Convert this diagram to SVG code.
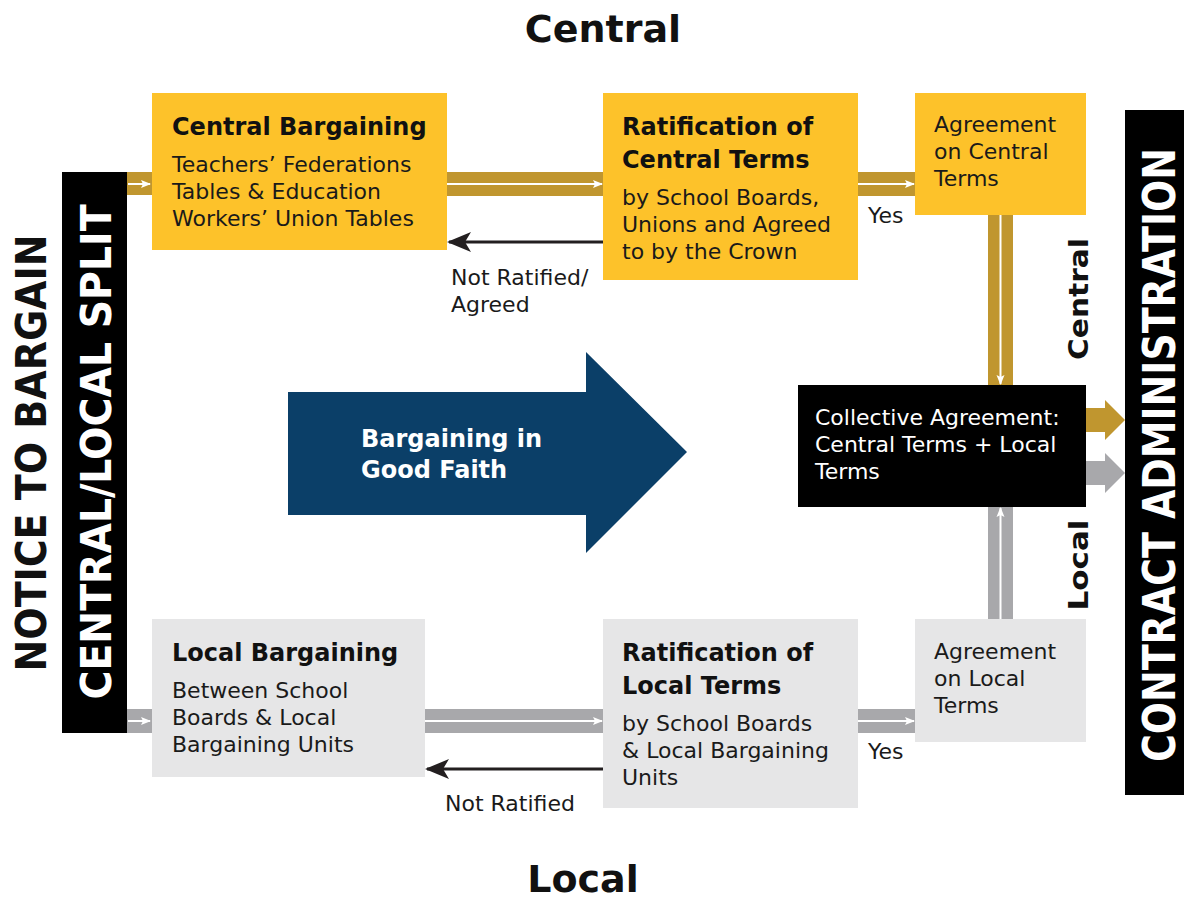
<svg xmlns="http://www.w3.org/2000/svg" width="1184" height="901" viewBox="0 0 1184 901">
<style>
.gbox{fill:#fdc22a}
.lbox{fill:#e6e6e7}
.gband{fill:#c0962f}
.lband{fill:#a8a8ab}
.t{font-family:"DejaVu Sans","Liberation Sans",sans-serif;font-size:22px;fill:#1a1a1a}
.tb{font-family:"DejaVu Sans","Liberation Sans",sans-serif;font-size:24px;font-weight:bold;fill:#111}
.big{font-family:"DejaVu Sans","Liberation Sans",sans-serif;font-weight:bold}
.wl{stroke:#fff;stroke-width:2;fill:none}
.bl{stroke:#231f20;stroke-width:3;fill:none}
</style>
<defs>
<marker id="wh" viewBox="0 0 10 10" refX="9" refY="5" markerWidth="10" markerHeight="10" markerUnits="userSpaceOnUse" orient="auto"><path d="M0,1 L10,5 L0,9 L2,5 Z" fill="#fff"/></marker>
<marker id="bh" viewBox="0 0 24 20" refX="22" refY="10" markerWidth="24" markerHeight="20" markerUnits="userSpaceOnUse" orient="auto"><path d="M0,0 L24,10 L0,20 L6,10 Z" fill="#231f20"/></marker>
</defs>

<!-- titles -->
<text class="big" x="603" y="42" font-size="38" text-anchor="middle" fill="#111">Central</text>
<text class="big" x="583" y="892" font-size="38" text-anchor="middle" fill="#111">Local</text>

<!-- side bars -->
<g id="notice">
<text class="big" transform="translate(46,453) rotate(-90)" font-size="42" text-anchor="middle" fill="#111" textLength="437" lengthAdjust="spacingAndGlyphs">NOTICE TO BARGAIN</text>
</g>
<g id="split">
<rect x="62" y="172" width="65" height="561" fill="#000"/>
<text class="big" transform="translate(111,452) rotate(-90)" font-size="42" text-anchor="middle" fill="#fff" textLength="495" lengthAdjust="spacingAndGlyphs">CENTRAL/LOCAL SPLIT</text>
</g>
<g id="contract">
<rect x="1125" y="110" width="59" height="685" fill="#000"/>
<text class="big" transform="translate(1175,455) rotate(-90)" font-size="44" text-anchor="middle" fill="#fff" textLength="614" lengthAdjust="spacingAndGlyphs">CONTRACT ADMINISTRATION</text>
</g>

<!-- connectors -->
<g id="connectors">
<rect class="gband" x="127" y="172" width="25" height="23"/>
<line class="wl" x1="128" y1="184" x2="150" y2="184" marker-end="url(#wh)"/>
<rect class="gband" x="447" y="172" width="156" height="24"/>
<line class="wl" x1="447" y1="184" x2="602" y2="184" marker-end="url(#wh)"/>
<rect class="gband" x="858" y="172" width="57" height="24"/>
<line class="wl" x1="858" y1="184" x2="914" y2="184" marker-end="url(#wh)"/>
<line class="bl" x1="603" y1="242" x2="449" y2="242" marker-end="url(#bh)"/>

<rect class="gband" x="988" y="215" width="25" height="170"/>
<line class="wl" x1="1000.5" y1="215" x2="1000.5" y2="384" marker-end="url(#wh)"/>

<rect class="lband" x="988" y="507" width="25" height="112"/>
<line class="wl" x1="1000.5" y1="619" x2="1000.5" y2="508" marker-end="url(#wh)"/>

<rect class="lband" x="127" y="709" width="25" height="24"/>
<line class="wl" x1="128" y1="721" x2="150" y2="721" marker-end="url(#wh)"/>
<rect class="lband" x="425" y="709" width="178" height="24"/>
<line class="wl" x1="425" y1="721" x2="602" y2="721" marker-end="url(#wh)"/>
<rect class="lband" x="858" y="709" width="57" height="24"/>
<line class="wl" x1="858" y1="721" x2="914" y2="721" marker-end="url(#wh)"/>
<line class="bl" x1="603" y1="769" x2="427" y2="769" marker-end="url(#bh)"/>

<path d="M1086,408 H1105 V400 L1125,420 L1105,440 V432 H1086 Z" fill="#c0962f"/>
<path d="M1086,461 H1105 V453 L1125,473 L1105,493 V485 H1086 Z" fill="#a8a8ab"/>

<text class="t" x="868" y="223">Yes</text>
<text class="t" x="868" y="759">Yes</text>
<text class="t" x="451" y="285">Not Ratified/</text>
<text class="t" x="451" y="312">Agreed</text>
<text class="t" x="445" y="811">Not Ratified</text>
<text class="big" transform="translate(1088,299) rotate(-90)" font-size="26" text-anchor="middle" fill="#111" textLength="122" lengthAdjust="spacingAndGlyphs">Central</text>
<text class="big" transform="translate(1088,565) rotate(-90)" font-size="26" text-anchor="middle" fill="#111" textLength="91" lengthAdjust="spacingAndGlyphs">Local</text>
</g>

<!-- nodes -->
<g id="central-bargaining">
<rect class="gbox" x="152" y="93" width="295" height="157"/>
<text class="tb" x="172" y="135">Central Bargaining</text>
<text class="t" x="172" y="172">Teachers’ Federations</text>
<text class="t" x="172" y="199">Tables &amp; Education</text>
<text class="t" x="172" y="226">Workers’ Union Tables</text>
</g>
<g id="ratification-central">
<rect class="gbox" x="603" y="93" width="255" height="187"/>
<text class="tb" x="622" y="135">Ratification of</text>
<text class="tb" x="622" y="168">Central Terms</text>
<text class="t" x="622" y="205">by School Boards,</text>
<text class="t" x="622" y="232">Unions and Agreed</text>
<text class="t" x="622" y="259">to by the Crown</text>
</g>
<g id="agreement-central">
<rect class="gbox" x="915" y="93" width="171" height="122"/>
<text class="t" x="934" y="132">Agreement</text>
<text class="t" x="934" y="159">on Central</text>
<text class="t" x="934" y="186">Terms</text>
</g>
<g id="collective-agreement">
<rect x="798" y="385" width="288" height="122" fill="#000"/>
<text class="t" x="815" y="425" style="fill:#fff">Collective Agreement:</text>
<text class="t" x="815" y="452" style="fill:#fff">Central Terms + Local</text>
<text class="t" x="815" y="479" style="fill:#fff">Terms</text>
</g>
<g id="good-faith">
<path d="M288,392 H586 V352 L687,452 L586,553 V515 H288 Z" fill="#0b3f68"/>
<text class="tb" x="361" y="447" style="fill:#fff">Bargaining in</text>
<text class="tb" x="361" y="478" style="fill:#fff">Good Faith</text>
</g>
<g id="local-bargaining">
<rect class="lbox" x="152" y="619" width="273" height="158"/>
<text class="tb" x="172" y="661">Local Bargaining</text>
<text class="t" x="172" y="698">Between School</text>
<text class="t" x="172" y="725">Boards &amp; Local</text>
<text class="t" x="172" y="752">Bargaining Units</text>
</g>
<g id="ratification-local">
<rect class="lbox" x="603" y="619" width="255" height="189"/>
<text class="tb" x="622" y="661">Ratification of</text>
<text class="tb" x="622" y="694">Local Terms</text>
<text class="t" x="622" y="731">by School Boards</text>
<text class="t" x="622" y="758">&amp; Local Bargaining</text>
<text class="t" x="622" y="785">Units</text>
</g>
<g id="agreement-local">
<rect class="lbox" x="915" y="619" width="171" height="123"/>
<text class="t" x="934" y="659">Agreement</text>
<text class="t" x="934" y="686">on Local</text>
<text class="t" x="934" y="713">Terms</text>
</g>
</svg>
